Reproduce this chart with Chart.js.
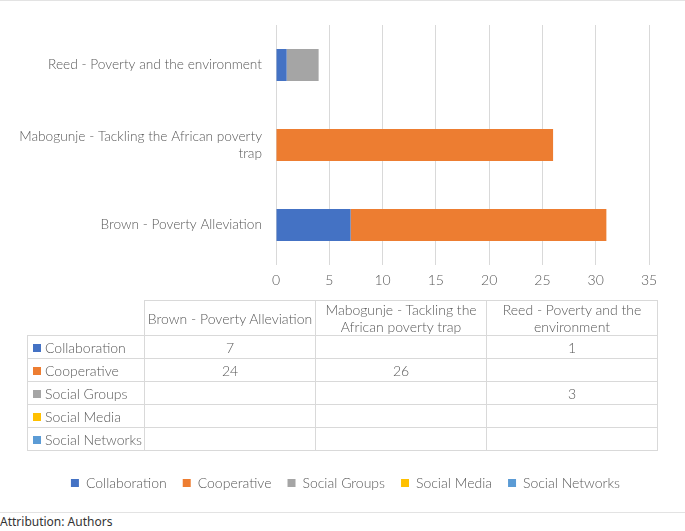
<!DOCTYPE html>
<html>
<head>
<meta charset="utf-8">
<script src="https://cdn.jsdelivr.net/npm/chart.js@4"></script>
<style>
  body { margin: 0; background: #fff; }
  #wrap { position: relative; width: 685px; height: 531px; overflow: hidden; font-family: Lato, sans-serif; }
  #box { position: absolute; left: 0; top: 0; width: 685px; height: 500px; }
  .rule { position: absolute; left: 0; width: 685px; height: 1px; background: #e3e3e3; }
  #dataTable { position: absolute; left: 27px; top: 300px; border-collapse: collapse; table-layout: fixed;
    font-size: 14px; font-weight: 300; color: #595959; }
  #dataTable td, #dataTable th { border: 1px solid #d9d9d9; padding: 0 2px; text-align: center; font-weight: 300; }
  #dataTable th { height: 32px; line-height: 17px; }
  #dataTable td { height: 22px; }
  #dataTable th.blank { border-top-color: transparent; border-left-color: transparent; }
  #dataTable td.key { text-align: left; white-space: nowrap; padding-left: 5px; }
  .sw { display: inline-block; width: 8px; height: 8px; margin-right: 4px; vertical-align: 1px; }
  #attr { position: absolute; left: 0; top: 513px; font-family: "Noto Sans", sans-serif; font-size: 12px; color: #333; }
</style>
</head>
<body>
<div id="wrap">
  <div class="rule" style="top:0"></div>
  <div id="box"><canvas id="chart"></canvas></div>
  <table id="dataTable"></table>
  <div class="rule" style="top:512px"></div>
  <div id="attr">Attribution: Authors</div>
</div>
<script>
const categories = ['Brown - Poverty Alleviation', 'Mabogunje - Tackling the African poverty trap', 'Reed - Poverty and the environment'];
const seriesNames = ['Collaboration', 'Cooperative', 'Social Groups', 'Social Media', 'Social Networks'];
const collaboration = [7, null, 1];
const cooperative = [24, 26, null];
const socialGroups = [null, null, 3];
const socialMedia = [null, null, null];
const socialNetworks = [null, null, null];
const seriesColors = ['#4472C4', '#ED7D31', '#A5A5A5', '#FFC000', '#5B9BD5'];
const xMax = 35;
const xStep = 5;

const seriesValues = [collaboration, cooperative, socialGroups, socialMedia, socialNetworks];
const textColor = '#595959';
const gridColor = '#d9d9d9';
const font = { family: 'Lato', size: 14, weight: '300' };
const axisFont = { family: 'Lato', size: 13.7, weight: '300', lineHeight: 1.28 };

// wrap long axis labels like Excel does
function wrap(label, maxChars) {
  const words = label.split(' ');
  const lines = [];
  let line = '';
  words.forEach(w => {
    const test = line ? line + ' ' + w : w;
    if (test.length > maxChars && line) { lines.push(line); line = w; }
    else line = test;
  });
  lines.push(line);
  return lines.length > 1 ? lines : lines[0];
}

// legend sits a little right of centre, under the table
const legendShift = {
  id: 'legendShift',
  afterLayout(chart) {
    chart.legend.left += 21;
    chart.legend.right += 21;
  }
};

const ctx = document.getElementById('chart').getContext('2d');
new Chart(ctx, {
  type: 'bar',
  data: {
    labels: categories,
    datasets: seriesNames.map((name, i) => ({
      label: name,
      data: seriesValues[i],
      backgroundColor: seriesColors[i],
      borderWidth: 0,
      barPercentage: 0.5,
      categoryPercentage: 0.8
    }))
  },
  options: {
    indexAxis: 'y',
    responsive: true,
    maintainAspectRatio: false,
    animation: false,
    layout: { padding: { top: 25, right: 36, left: 0, bottom: 0 } },
    scales: {
      x: {
        stacked: true,
        min: 0,
        max: xMax,
        ticks: { stepSize: xStep, color: textColor, font: font, padding: 7 },
        grid: { color: gridColor, drawTicks: false },
        border: { display: false },
        afterFit: s => { s.height = 195; }
      },
      y: {
        stacked: true,
        reverse: true,
        grid: { display: false },
        border: { display: false },
        ticks: {
          color: textColor,
          font: axisFont,
          padding: 6,
          callback: function (v, i) { return wrap(categories[i], 40); }
        },
        afterFit: s => { s.width = 276; }
      }
    },
    plugins: {
      legend: {
        position: 'bottom',
        labels: { boxWidth: 8, boxHeight: 8, padding: 16, color: textColor, font: font }
      },
      tooltip: { enabled: false }
    }
  },
  plugins: [legendShift]
});

// data table under the axis
const table = document.getElementById('dataTable');
let html = '<colgroup><col style="width:117px">' + categories.map(() => '<col style="width:171px">').join('') + '</colgroup>';
html += '<tr><th class="blank"></th>' + categories.map(c => '<th>' + c + '</th>').join('') + '</tr>';
seriesNames.forEach((name, i) => {
  html += '<tr><td class="key"><span class="sw" style="background:' + seriesColors[i] + '"></span>' + name + '</td>';
  html += seriesValues[i].map(v => '<td>' + (v == null ? '' : v) + '</td>').join('') + '</tr>';
});
table.innerHTML = html;
</script>
</body>
</html>
